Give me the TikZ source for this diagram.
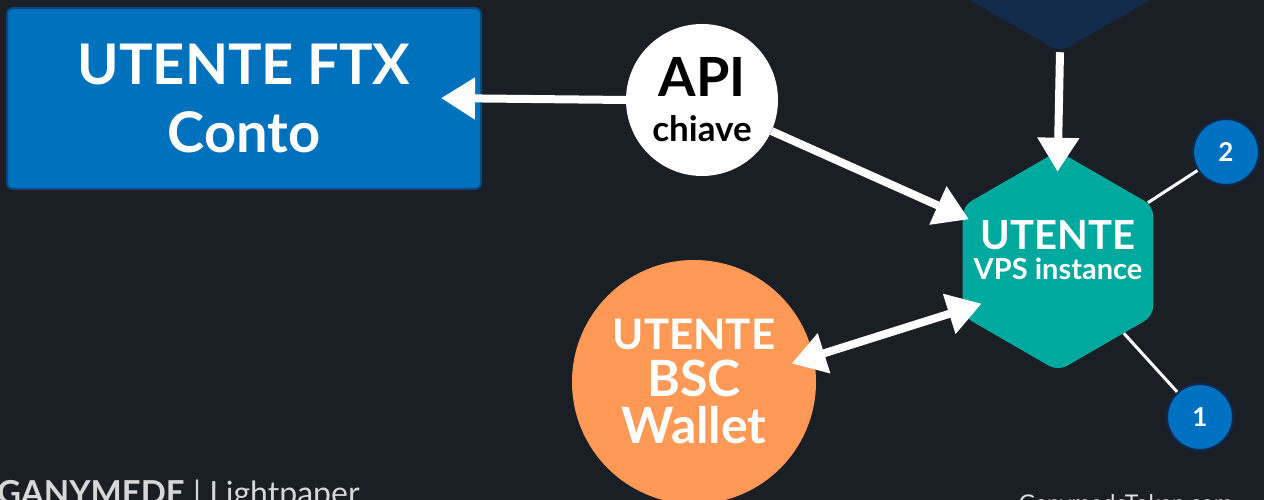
\documentclass[tikz,border=0pt]{standalone}
\usepackage{fontspec}
\setmainfont{Lato}
\usetikzlibrary{positioning,shapes.geometric,arrows.meta}
\definecolor{bg}{RGB}{26,31,38}
\definecolor{ftxblue}{RGB}{0,113,188}
\definecolor{ftxedge}{RGB}{12,68,125}
\definecolor{navy}{RGB}{18,43,75}
\definecolor{vpsteal}{RGB}{0,169,157}
\definecolor{walletorange}{RGB}{255,153,85}
\definecolor{numblue}{RGB}{0,112,192}
\definecolor{numedge}{RGB}{14,40,75}
\definecolor{footgray}{RGB}{215,215,215}

\begin{document}
\begin{tikzpicture}[x=1pt, y=1pt, font=\bfseries,
    fat/.style = {line width=8pt, white, -{Triangle[length=34pt,width=40pt]}},
    wire/.style = {line width=3pt, white},
    hexa/.style = {regular polygon, regular polygon sides=6, shape border rotate=30,
      minimum size=220pt, rounded corners=10pt, inner sep=-30pt, align=center, text=white},
    num/.style = {circle, fill=numblue, draw=numedge, line width=2pt, minimum size=66pt,
      inner sep=0pt, text=white, font=\bfseries\fontsize{26}{26}\selectfont}
    ]
    \fill[bg] (0,0) rectangle (1264,500);
    \useasboundingbox (0,0) rectangle (1264,500);
    \clip (0,0) rectangle (1264,500);

    % boxes
    \node[hexa, fill=navy, minimum size=240pt] (top) at (1060,568) {};
    \node[rectangle, fill=ftxblue, draw=ftxedge, line width=2pt, rounded corners=6pt,
      minimum width=474pt, minimum height=181pt, align=center, text=white,
      font=\bfseries\fontsize{56}{68}\selectfont] (ftx) at (244,401.5) {UTENTE FTX\\Conto};
    \node[circle, fill=white, minimum size=152pt, inner sep=0pt, align=center, text=black,
      font=\bfseries\fontsize{35}{45}\selectfont] (api) at (702,400)
      {{\fontsize{54}{45}\selectfont API}\\chiave};
    \node[hexa, fill=vpsteal, font=\bfseries\fontsize{29}{30}\selectfont] (vps) at (1058,239)
      {{\fontsize{40}{30}\selectfont UTENTE}\\VPS instance\rule[-22pt]{0pt}{0pt}};
    \node[circle, fill=walletorange, minimum size=244pt, inner sep=0pt, align=center, text=white,
      font=\bfseries\fontsize{50}{47}\selectfont] (wallet) at (694,118)
      {{\fontsize{42}{47}\selectfont UTENTE}\\BSC\\Wallet};
    \node[num] (n2) at (1226,348) {2};
    \node[num] (n1) at (1200,83) {1};

    % arrows
    \draw[fat, shorten >=-41pt] (api.west) -- (ftx.east);
    \draw[fat, shorten >=-7pt] (api) -- (vps.155);
    \draw[fat, shorten >=-21pt] (top.270) -- (vps.90);
    \draw[fat, {Triangle[length=34pt,width=40pt]}-{Triangle[length=34pt,width=40pt]},
      shorten <=-23pt, shorten >=-20pt] (wallet.12) -- (vps.207);
    \draw[wire] (vps) -- (n2);
    \draw[wire] (vps) -- (n1);

    % footer
    \node[anchor=base west, inner sep=0pt, text=footgray,
      font=\bfseries\fontsize{33}{33}\selectfont] (brand) at (-3,-5) {GANYMEDE};
    \node[anchor=base west, inner sep=0pt, text=footgray,
      font=\fontsize{32}{32}\selectfont] (paper) at ([xshift=8pt]brand.base east) {| Lightpaper};
    \node[anchor=base east, inner sep=0pt, text=footgray!80,
      font=\fontsize{23}{23}\selectfont] (site) at (1233,-12) {GanymedeToken.com};
\end{tikzpicture}
\end{document}
